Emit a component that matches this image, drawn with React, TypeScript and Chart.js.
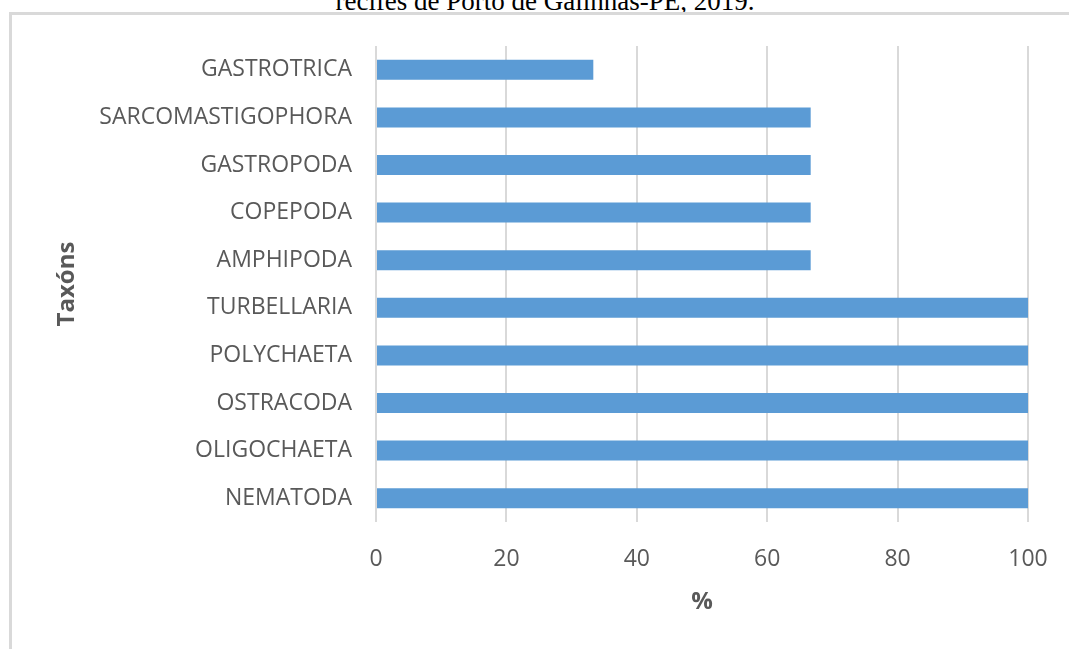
import React, { useEffect, useRef } from "react";
import { Chart, registerables } from "chart.js";

Chart.register(...registerables);

// Taxa listed top to bottom as they appear on the category axis
const taxa: string[] = [
  "GASTROTRICA",
  "SARCOMASTIGOPHORA",
  "GASTROPODA",
  "COPEPODA",
  "AMPHIPODA",
  "TURBELLARIA",
  "POLYCHAETA",
  "OSTRACODA",
  "OLIGOCHAETA",
  "NEMATODA",
];

// Frequency of occurrence (%) for each taxon
const frequency: number[] = [33.33, 66.67, 66.67, 66.67, 66.67, 100, 100, 100, 100, 100];

const xTicks: number[] = [0, 20, 40, 60, 80, 100];

const caption = "recifes de Porto de Galinhas-PE, 2019.";
const yTitle = "Taxóns";
const xTitle = "%";

const W = 1069;
const H = 649;

export default function App() {
  const canvasRef = useRef<HTMLCanvasElement | null>(null);

  useEffect(() => {
    const canvas = canvasRef.current;
    if (!canvas) return;
    const fontFamily = "'Open Sans', sans-serif";
    const chart = new Chart(canvas, {
      type: "bar",
      data: {
        labels: taxa,
        datasets: [
          {
            data: frequency,
            backgroundColor: "#5b9bd5",
            borderWidth: 0,
            barPercentage: 0.42,
            categoryPercentage: 1,
          },
        ],
      },
      options: {
        indexAxis: "y",
        responsive: false,
        animation: false,
        events: [],
        layout: { padding: { left: 0, right: 41, top: 46, bottom: 0 } },
        plugins: {
          legend: { display: false },
          tooltip: { enabled: false },
          title: { display: false },
        },
        scales: {
          x: {
            type: "linear",
            min: 0,
            max: 100,
            afterBuildTicks: (scale: any) => {
              scale.ticks = xTicks.map((v) => ({ value: v }));
            },
            afterFit: (scale: any) => {
              scale.height = H - 522;
            },
            grid: {
              color: "#d9d9d9",
              lineWidth: 2,
              drawTicks: true,
              tickLength: 24,
              tickColor: "rgba(0,0,0,0)",
            },
            border: { display: false },
            ticks: {
              color: "#595959",
              padding: 0,
              font: { family: fontFamily, size: 23 },
            },
            title: {
              display: true,
              text: xTitle,
              color: "#595959",
              font: { family: fontFamily, size: 24, weight: "bold" },
              padding: { top: 0, bottom: 32 },
            },
          },
          y: {
            type: "category",
            afterFit: (scale: any) => {
              scale.width = 376;
            },
            grid: { display: false, drawTicks: false },
            border: { display: false },
            ticks: {
              color: "#595959",
              padding: 24,
              font: { family: fontFamily, size: 23 },
            },
            title: {
              display: true,
              text: yTitle,
              color: "#595959",
              font: { family: fontFamily, size: 24, weight: "bold" },
              padding: { top: 53, bottom: 0 },
            },
          },
        },
      },
    });
    return () => chart.destroy();
  }, []);

  return (
    <div
      style={{
        position: "fixed",
        left: 0,
        top: 0,
        width: W,
        height: H,
        overflow: "hidden",
        background: "#ffffff",
      }}
    >
      <div
        style={{
          position: "absolute",
          left: 0,
          width: 1090,
          top: -12,
          textAlign: "center",
          fontFamily: "'Liberation Serif', 'Times New Roman', serif",
          fontSize: 27,
          lineHeight: "27px",
          color: "#000000",
          whiteSpace: "nowrap",
        }}
      >
        {caption}
      </div>
      <div
        style={{
          position: "absolute",
          left: 9,
          top: 12,
          width: 1120,
          height: 700,
          border: "3px solid #d9d9d9",
          boxSizing: "border-box",
        }}
      />
      <canvas
        ref={canvasRef}
        width={W}
        height={H}
        style={{ position: "absolute", left: 0, top: 0, width: W, height: H }}
      />
    </div>
  );
}
